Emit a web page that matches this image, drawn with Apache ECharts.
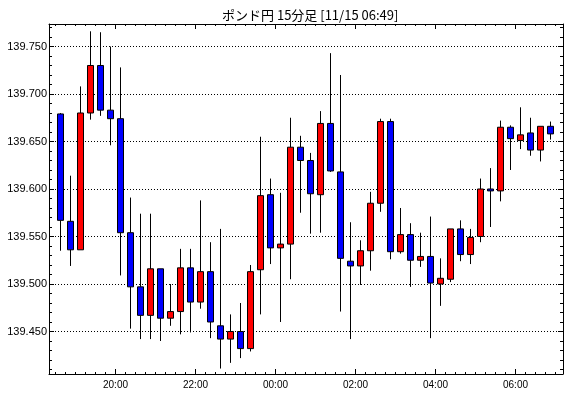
<!DOCTYPE html>
<html>
<head>
<meta charset="utf-8">
<script src="https://cdn.jsdelivr.net/npm/echarts@6/dist/echarts.min.js"></script>
<style>
html,body{margin:0;padding:0;background:#fff;}
#c{width:570px;height:398px;}
</style>
</head>
<body>
<div id="c"></div>
<script>
const titleText = 'ポンド円 15分足 [11/15 06:49]';
const times = ['18:30','18:45','19:00','19:15','19:30','19:45','20:00','20:15','20:30','20:45',
  '21:00','21:15','21:30','21:45','22:00','22:15','22:30','22:45','23:00','23:15',
  '23:30','23:45','00:00','00:15','00:30','00:45','01:00','01:15','01:30','01:45',
  '02:00','02:15','02:30','02:45','03:00','03:15','03:30','03:45','04:00','04:15',
  '04:30','04:45','05:00','05:15','05:30','05:45','06:00','06:15','06:30','06:45'];
const opens = [139.679,139.566,139.536,139.680,139.730,139.683,139.674,139.554,139.497,139.467,
  139.516,139.464,139.471,139.517,139.481,139.513,139.456,139.442,139.450,139.432,
  139.515,139.594,139.538,139.542,139.644,139.630,139.594,139.669,139.618,139.524,
  139.519,139.535,139.585,139.671,139.534,139.552,139.525,139.529,139.500,139.505,
  139.558,139.531,139.550,139.600,139.598,139.665,139.651,139.659,139.641,139.666];
const closes = [139.567,139.536,139.680,139.730,139.683,139.674,139.554,139.497,139.467,139.516,
  139.464,139.471,139.517,139.481,139.513,139.460,139.442,139.450,139.432,139.513,
  139.593,139.538,139.542,139.644,139.630,139.595,139.669,139.619,139.527,139.519,
  139.535,139.585,139.671,139.534,139.552,139.525,139.529,139.501,139.506,139.558,
  139.531,139.549,139.600,139.598,139.665,139.653,139.657,139.641,139.666,139.658];
const lows = [139.535,139.519,139.536,139.673,139.677,139.646,139.509,139.453,139.442,139.442,
  139.440,139.456,139.447,139.449,139.474,139.443,139.411,139.417,139.422,139.429,
  139.468,139.521,139.460,139.505,139.575,139.553,139.554,139.618,139.471,139.442,
  139.499,139.514,139.576,139.526,139.532,139.497,139.518,139.443,139.477,139.502,
  139.524,139.521,139.544,139.560,139.587,139.620,139.642,139.635,139.629,139.652];
const highs = [139.680,139.614,139.708,139.766,139.765,139.750,139.728,139.591,139.574,139.574,
  139.516,139.500,139.537,139.537,139.588,139.544,139.558,139.468,139.480,139.520,
  139.655,139.611,139.596,139.675,139.656,139.638,139.682,139.743,139.720,139.565,
  139.546,139.597,139.674,139.674,139.580,139.564,139.554,139.571,139.527,139.558,
  139.567,139.558,139.611,139.622,139.672,139.667,139.686,139.675,139.666,139.671];
const yTickLabels = [139.450,139.500,139.550,139.600,139.650,139.700,139.750];
const xTickHours = [20,22,24,26,28,30];

// candle centre in hours (start of 15-min bar + half bar)
function hourOf(t){const p=t.split(':');let h=+p[0]+(+p[1])/60;if(h<12)h+=24;return h;}
const candleData = times.map((t,i)=>[hourOf(t)+0.125, opens[i], closes[i], lows[i], highs[i]]);

const X_MIN = 18.3375, X_MAX = 31.1875;
const Y_MIN = 139.405263, Y_MAX = 139.773684;
const minorX = []; for(let k=0;k<=51;k++){minorX.push(18.5+k*0.25);}
const minorY = []; for(let k=41;k<=77;k++){minorY.push(+(139+k/100).toFixed(2));}

const font = 'Liberation Sans, Arial, sans-serif';
function xAx(pos, major){
  return {
    type:'value', position:pos, min:X_MIN, max:X_MAX,
    axisLine:{show:major, lineStyle:{color:'#000',width:1}},
    axisTick:{show:true, inside:true, length: major?5:2, lineStyle:{color:'#000'},
      customValues: major? xTickHours : minorX},
    axisLabel:{show: major && pos==='bottom', customValues:xTickHours, margin:6,
      color:'#000', fontSize:10, fontFamily:font,
      formatter:v=>String(Math.round(v)%24).padStart(2,'0')+':00'},
    splitLine:{show:false}
  };
}
function yAx(pos, major){
  return {
    type:'value', position:pos, min:Y_MIN, max:Y_MAX,
    axisLine:{show:major, lineStyle:{color:'#000',width:1}},
    axisTick:{show:true, inside:true, length: major?5:3, lineStyle:{color:'#000'},
      customValues: major? yTickLabels : minorY},
    axisLabel:{show: major && pos==='left', customValues:yTickLabels, margin:2,
      color:'#000', fontSize:11, fontFamily:font, formatter:v=>v.toFixed(3)},
    splitLine:{show: major && pos==='left', lineStyle:{color:'#000', type:[1,2], width:1}}
  };
}

const chart = echarts.init(document.getElementById('c'), null, {renderer:'canvas'});
chart.setOption({
  animation:false,
  backgroundColor:'#fff',
  title:{text:titleText, left:217, top:4,
    textStyle:{fontSize:13, fontWeight:'normal', color:'#000', fontFamily:'Noto Sans CJK JP, sans-serif'}},
  grid:{left:49, top:24, width:514, height:350, containLabel:false},
  xAxis:[xAx('bottom',true), xAx('bottom',false), xAx('top',true), xAx('top',false)],
  yAxis:[yAx('left',true), yAx('left',false), yAx('right',true), yAx('right',false)],
  series:[{
    type:'candlestick', xAxisIndex:0, yAxisIndex:0,
    data:candleData, encode:{x:0, y:[1,2,3,4]},
    barWidth:6,
    itemStyle:{color:'#ff0000', color0:'#0000ff', borderColor:'#000', borderColor0:'#000', borderWidth:1}
  }]
});
</script>
</body>
</html>
